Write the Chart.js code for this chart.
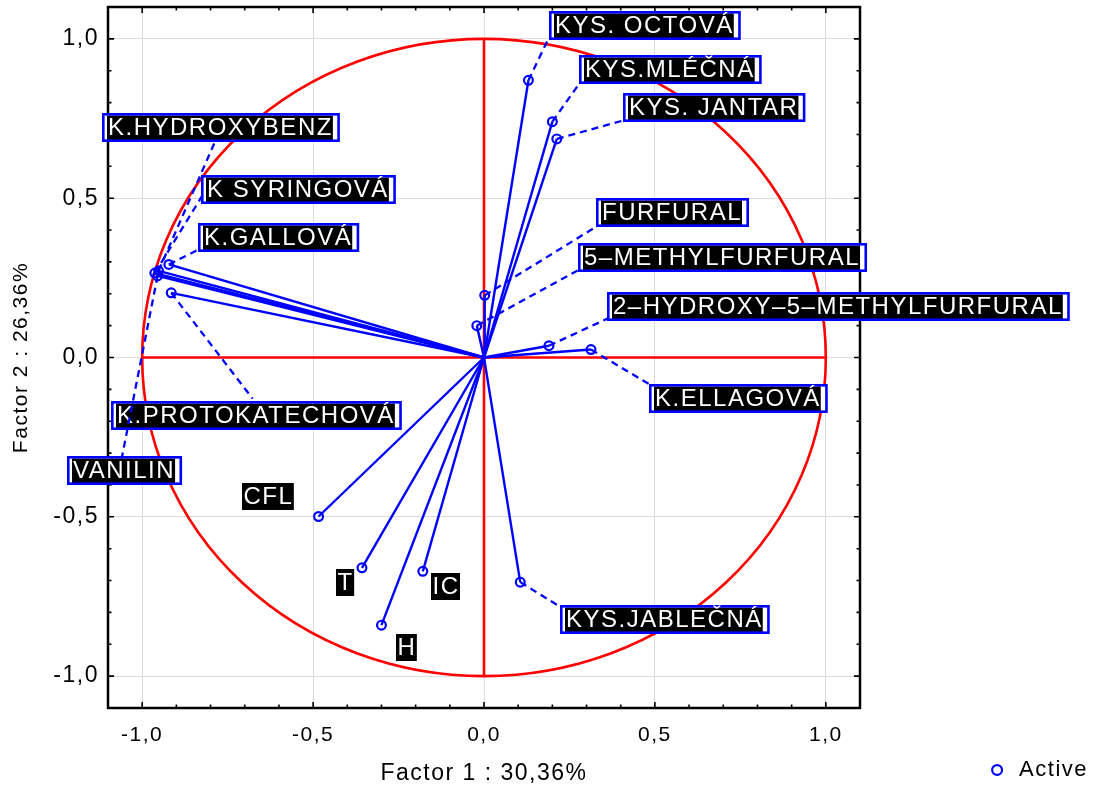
<!DOCTYPE html>
<html>
<head>
<meta charset="utf-8">
<script src="https://cdn.jsdelivr.net/npm/chart.js@4"></script>
<style>
html,body{margin:0;padding:0;background:#fff;}
#c{display:block;}
</style>
</head>
<body>
<canvas id="c" width="1098" height="787"></canvas>
<script>
// ---- data (variable loadings on Factor 1 / Factor 2) ----
const variables = ['KYS. OCTOVÁ','KYS.MLÉČNÁ','KYS. JANTAR','FURFURAL','5–METHYLFURFURAL',
  '2–HYDROXY–5–METHYLFURFURAL','K.ELLAGOVÁ','KYS.JABLEČNÁ','K.HYDROXYBENZ','K SYRINGOVÁ',
  'K.GALLOVÁ','K.PROTOKATECHOVÁ','VANILIN','CFL','T','IC','H'];
const factor1 = [0.130, 0.200, 0.213, 0.002, -0.021, 0.190, 0.313, 0.106, -0.952, -0.963,
  -0.922, -0.915, -0.955, -0.484, -0.357, -0.179, -0.300];
const factor2 = [0.870, 0.740, 0.686, 0.195, 0.100, 0.037, 0.025, -0.705, 0.272, 0.265,
  0.292, 0.203, 0.256, -0.499, -0.660, -0.671, -0.840];
const seriesName = 'Active';
const xTitle = 'Factor 1 : 30,36%';
const yTitle = 'Factor 2 : 26,36%';

// ---- label layout (data units): box top-left, connector end, boxed or not ----
const labelBoxX = [0.190, 0.279, 0.408, 0.329, 0.274, 0.361, 0.484, 0.221, -1.119, -0.827,
  -0.838, -1.090, -1.221, -0.709, -0.432, -0.154, -0.256];
const labelBoxY = [1.089, 0.948, 0.829, 0.502, 0.358, 0.207, -0.082, -0.778, 0.766, 0.574,
  0.421, -0.135, -0.308, -0.395, -0.665, -0.675, -0.869];
const linkX = [0.186, 0.279, 0.408, 0.329, 0.274, 0.361, 0.490, 0.227, -0.788, -0.824,
  -0.835, -0.677, -1.060, null, null, null, null];
const linkY = [0.995, 0.860, 0.744, 0.411, 0.273, 0.122, -0.088, -0.785, 0.675, 0.508,
  0.339, -0.129, -0.317, null, null, null, null];
const boxed = [true,true,true,true,true,true,true,true,true,true,true,true,true,false,false,false,false];

const BLUE = '#0000ff';
const RED = '#ff0000';
const FONT = '"Liberation Sans", Arial, Helvetica, sans-serif';
const SPACING = '1.5px';

const fmt = v => {
  const s = Number(v).toFixed(1).replace('.', ',');
  return s === '-0,0' ? '0,0' : s;
};

const lineSets = variables.map((name, i) => ({
  label: name,
  data: [{x: 0, y: 0}, {x: factor1[i], y: factor2[i]}],
  showLine: true,
  borderColor: BLUE,
  backgroundColor: BLUE,
  borderWidth: 2.4,
  pointRadius: 0,
  pointHoverRadius: 0,
  clip: false
}));

const activeSet = {
  label: seriesName,
  data: variables.map((n, i) => ({x: factor1[i], y: factor2[i]})),
  showLine: false,
  pointStyle: 'circle',
  pointRadius: 4.4,
  pointHoverRadius: 4.4,
  pointBorderWidth: 2.2,
  borderWidth: 2.2,
  borderColor: BLUE,
  backgroundColor: 'rgba(255,255,255,0)',
  clip: false
};

const pcaDecor = {
  id: 'pcaDecor',
  beforeUpdate(chart) { chart.ctx.letterSpacing = SPACING; },
  beforeDraw(chart) { chart.ctx.letterSpacing = SPACING; },
  beforeDatasetsDraw(chart) {
    const {ctx, chartArea: a} = chart;
    const xs = chart.scales.x, ys = chart.scales.y;
    ctx.save();
    // unit circle and red axes through origin
    const cx = xs.getPixelForValue(0), cy = ys.getPixelForValue(0);
    const rx = xs.getPixelForValue(1) - cx, ry = cy - ys.getPixelForValue(1);
    ctx.strokeStyle = RED;
    ctx.lineWidth = 2.6;
    ctx.beginPath();
    ctx.ellipse(cx, cy, rx, ry, 0, 0, Math.PI * 2);
    ctx.stroke();
    ctx.beginPath();
    ctx.moveTo(xs.getPixelForValue(-1), cy); ctx.lineTo(xs.getPixelForValue(1), cy);
    ctx.moveTo(cx, ys.getPixelForValue(-1)); ctx.lineTo(cx, ys.getPixelForValue(1));
    ctx.stroke();
    // frame
    ctx.strokeStyle = '#000';
    ctx.lineWidth = 2.5;
    ctx.strokeRect(a.left, a.top, a.right - a.left, a.bottom - a.top);
    // inward tick marks
    ctx.lineWidth = 1.6;
    ctx.beginPath();
    for (let k = -10; k <= 10; k++) {
      const v = k / 10;
      const L = (k % 5 === 0) ? 6 : 3.5;
      const px = xs.getPixelForValue(v), py = ys.getPixelForValue(v);
      ctx.moveTo(px, a.bottom); ctx.lineTo(px, a.bottom - L);
      ctx.moveTo(px, a.top); ctx.lineTo(px, a.top + L);
      ctx.moveTo(a.left, py); ctx.lineTo(a.left + L, py);
      ctx.moveTo(a.right, py); ctx.lineTo(a.right - L, py);
    }
    ctx.stroke();
    ctx.restore();
  },
  afterDatasetsDraw(chart) {
    const {ctx} = chart;
    const xs = chart.scales.x, ys = chart.scales.y;
    ctx.save();
    ctx.font = '24px ' + FONT;
    ctx.letterSpacing = '1.5px';
    ctx.textBaseline = 'middle';
    ctx.textAlign = 'left';
    variables.forEach((name, i) => {
      const x0 = Math.round(xs.getPixelForValue(labelBoxX[i]));
      const y0 = Math.round(ys.getPixelForValue(labelBoxY[i]));
      const tw = ctx.measureText(name).width;
      if (boxed[i]) {
        const W = tw + 13, H = 29;
        ctx.fillStyle = '#fff';
        ctx.fillRect(x0, y0, W, H);
        ctx.fillStyle = '#000';
        ctx.fillRect(x0 + 5, y0 + 2.5, tw + 1, H - 4.5);
        ctx.strokeStyle = BLUE;
        ctx.lineWidth = 2.6;
        ctx.strokeRect(x0 + 1.3, y0 + 1.3, W - 2.6, H - 2.6);
        ctx.fillStyle = '#fff';
        ctx.fillText(name, x0 + 6, y0 + H / 2 + 1);
      } else {
        const W = tw + 2, H = 27;
        ctx.fillStyle = '#000';
        ctx.fillRect(x0, y0, W, H);
        ctx.fillStyle = '#fff';
        ctx.fillText(name, x0 + 1.5, y0 + H / 2 + 1);
      }
    });
    // dashed connectors from points to labels
    ctx.strokeStyle = BLUE;
    ctx.lineWidth = 2.3;
    ctx.setLineDash([7, 5]);
    variables.forEach((name, i) => {
      if (linkX[i] === null) return;
      ctx.beginPath();
      ctx.moveTo(xs.getPixelForValue(factor1[i]), ys.getPixelForValue(factor2[i]));
      ctx.lineTo(xs.getPixelForValue(linkX[i]), ys.getPixelForValue(linkY[i]));
      ctx.stroke();
    });
    ctx.restore();
  }
};

new Chart(document.getElementById('c'), {
  type: 'scatter',
  data: { datasets: [...lineSets, activeSet] },
  options: {
    responsive: false,
    devicePixelRatio: 1,
    animation: false,
    layout: { padding: { top: 7, left: 0, right: 0, bottom: 0 } },
    scales: {
      x: {
        type: 'linear', position: 'bottom', min: -1.1, max: 1.1,
        afterFit: s => { s.height = 79; s.paddingLeft = 0; s.paddingRight = 0; },
        ticks: { stepSize: 0.5, includeBounds: false, callback: fmt, color: '#000',
                 font: { family: FONT, size: 21 }, padding: 15, maxRotation: 0, autoSkip: false },
        grid: { color: '#dcdcdc', lineWidth: 1, drawTicks: false },
        border: { display: false },
        title: { display: true, text: xTitle, color: '#000',
                 font: { family: FONT, size: 23 }, padding: { top: 0, bottom: 0 } }
      },
      y: {
        type: 'linear', position: 'left', min: -1.1, max: 1.1,
        afterFit: s => { s.width = 108; s.paddingTop = 0; s.paddingBottom = 0; },
        ticks: { stepSize: 0.5, includeBounds: false, callback: fmt, color: '#000',
                 font: { family: FONT, size: 23 }, padding: 9 },
        grid: { color: '#dcdcdc', lineWidth: 1, drawTicks: false },
        border: { display: false },
        title: { display: true, text: yTitle, color: '#000',
                 font: { family: FONT, size: 21 }, padding: { top: 9, bottom: 0 } }
      },
      y2: {
        type: 'linear', position: 'right', min: -1.1, max: 1.1, display: true,
        afterFit: s => {
          const lw = s.chart.legend ? s.chart.legend.width : 0;
          s.width = Math.max(0, s.chart.width - 860 - lw);
          s.paddingTop = 0; s.paddingBottom = 0;
        },
        ticks: { display: false },
        grid: { display: false, drawTicks: false },
        border: { display: false }
      }
    },
    plugins: {
      legend: {
        position: 'right', align: 'end',
        labels: {
          filter: item => item.text === seriesName,
          usePointStyle: true, pointStyle: 'circle', boxWidth: 22, boxHeight: 7,
          color: '#000', font: { family: FONT, size: 22 }, padding: 6
        }
      },
      tooltip: { enabled: false }
    }
  },
  plugins: [pcaDecor]
});
</script>
</body>
</html>
